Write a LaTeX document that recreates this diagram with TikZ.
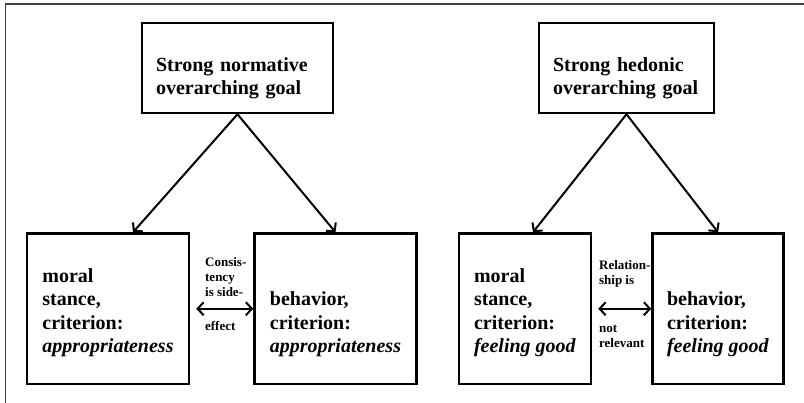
\documentclass[tikz,border=0pt]{standalone}
\usepackage{fontspec}
\setmainfont{Liberation Serif}
\usetikzlibrary{arrows.meta, positioning, calc}

\begin{document}
\begin{tikzpicture}[
    x=1pt, y=-1pt,
    goalbox/.style={rectangle, draw=black, line width=2.5pt, inner xsep=14pt, minimum height=90pt, align=left, font=\fontsize{20}{23.5}\selectfont\bfseries, text height=34pt, text depth=27pt},
    crit/.style={rectangle, draw=black, line width=2.5pt, minimum width=#1, minimum height=150.5pt, align=left, font=\fontsize{20}{23.5}\selectfont\bfseries, text height=90pt, text depth=2.3pt},
    note/.style={inner sep=2pt, align=left, font=\fontsize{13}{15}\selectfont\bfseries},
    arrow/.style={-{Straight Barb[length=6pt, width=13pt]}, line width=2pt},
    twoway/.style={{Straight Barb[length=6pt, width=13pt]}-{Straight Barb[length=6pt, width=13pt]}, line width=2pt, shorten <=6pt}
]
\useasboundingbox (0,0) rectangle (804,403);
\draw[line width=1.5pt, black!75] (804,4) -| (5.5,403);

\node[goalbox, text width=163pt] (ngoal) at (237.5,68) {Strong normative\\overarching goal};
\node[goalbox, text width=147pt] (hgoal) at (626.5,68) {Strong hedonic\\overarching goal};

\node[crit=162pt] (nmoral) at (108,308.75) {moral\\stance,\\criterion:\\\textit{appropriateness}};
\node[crit=162pt, right=63pt of nmoral] (nbehav) {behavior,\\criterion:\\\textit{appropriateness}};
\node[crit=132pt, right=40pt of nbehav] (hmoral) {moral\\stance,\\criterion:\\\textit{feeling good}};
\node[crit=131pt, right=59pt of hmoral] (hbehav) {behavior,\\criterion:\\\textit{feeling good}};

% Arrows
\draw[arrow] (ngoal.south) -- ($(nmoral.north)+(25,0)$);
\draw[arrow] (ngoal.south) -- (nbehav.north);
\draw[arrow] (hgoal.south) -- ($(hmoral.north)+(8,0)$);
\draw[arrow] (hgoal.south) -- (hbehav.north);

\draw[twoway] (nmoral.east) -- node[note, above=9pt, xshift=4pt] (cons) {Consis-\\tency\\is side-} node[note, below=10pt, xshift=-1.5pt] (eff) {effect} (nbehav.west);
\draw[twoway] (hmoral.east) -- node[note, above=18pt, xshift=3pt] (rel) {Relation-\\ship is} node[note, below=13pt] (irr) {not\\relevant} (hbehav.west);

\end{tikzpicture}
\end{document}
